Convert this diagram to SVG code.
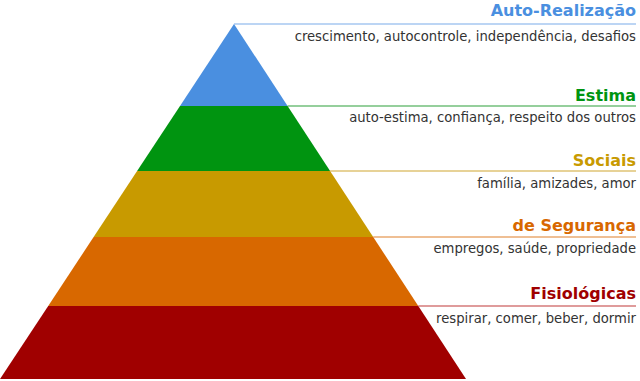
<svg xmlns="http://www.w3.org/2000/svg" width="640" height="381" viewBox="0 0 640 381">
<style>
.t{font-family:"DejaVu Sans","Liberation Sans",sans-serif;font-weight:bold;font-size:16px;text-anchor:end}
.d{font-family:"DejaVu Sans","Liberation Sans",sans-serif;font-size:13.2px;fill:#333;text-anchor:end}
.ln{stroke-width:1.2;fill:none}
</style>
<rect width="640" height="381" fill="#fff"/>
<g id="level-auto-realizacao">
<polygon points="234,24 287.6,106 180,106" fill="#4a8fe0"/>
<text class="t" x="636" y="16" fill="#4a8fe0">Auto-Realização</text>
<text class="d" x="636" y="41">crescimento, autocontrole, independência, desafios</text>
</g>
<g id="level-estima">
<polygon points="180,106 287.6,106 330.1,171 137.1,171" fill="#009410"/>
<text class="t" x="636" y="101" fill="#009410">Estima</text>
<text class="d" x="636" y="122">auto-estima, confiança, respeito dos outros</text>
</g>
<g id="level-sociais">
<polygon points="137.1,171 330.1,171 373.2,237 93.6,237" fill="#c89a00"/>
<text class="t" x="636" y="166" fill="#c89a00">Sociais</text>
<text class="d" x="636" y="188">família, amizades, amor</text>
</g>
<g id="level-seguranca">
<polygon points="93.6,237 373.2,237 418.3,306 48.2,306" fill="#d86800"/>
<text class="t" x="636" y="231" fill="#d86800">de Segurança</text>
<text class="d" x="636" y="253">empregos, saúde, propriedade</text>
</g>
<g id="level-fisiologicas">
<polygon points="48.2,306 418.3,306 466,379 0,379" fill="#a00000"/>
<text class="t" x="636" y="299" fill="#a00000">Fisiológicas</text>
<text class="d" x="636" y="323">respirar, comer, beber, dormir</text>
</g>
<g id="connectors">
<line class="ln" x1="234" y1="24" x2="636" y2="24" stroke="#7aacea"/>
<line class="ln" x1="287.6" y1="106" x2="636" y2="106" stroke="#2ca03a"/>
<line class="ln" x1="330.1" y1="171" x2="636" y2="171" stroke="#d0a630"/>
<line class="ln" x1="373.2" y1="237" x2="636" y2="237" stroke="#e0802a"/>
<line class="ln" x1="418.3" y1="306" x2="636" y2="306" stroke="#c03838"/>
</g>
</svg>
